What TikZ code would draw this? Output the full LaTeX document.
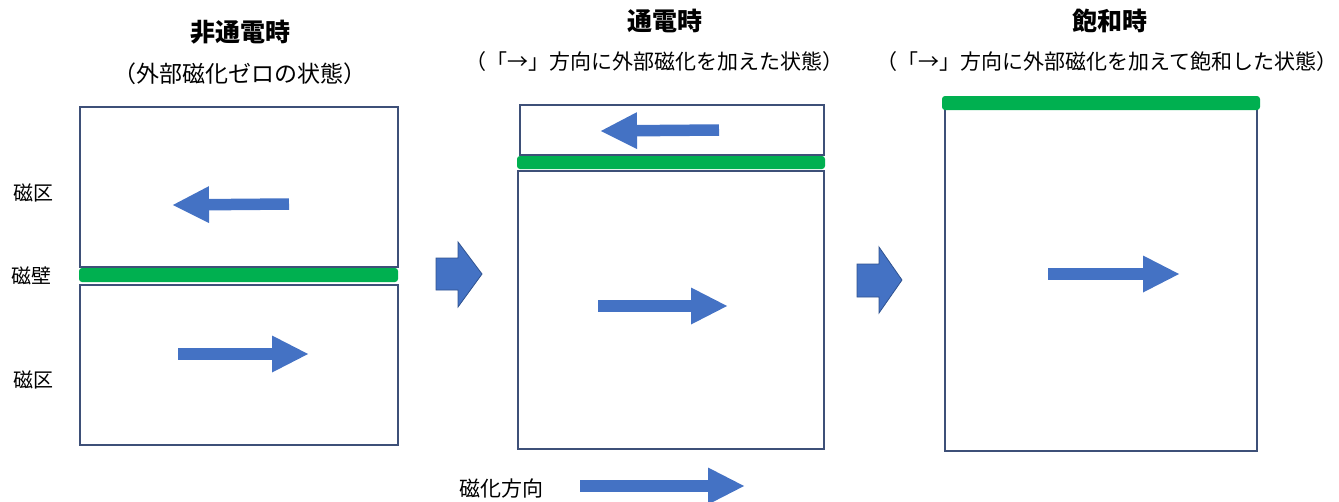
\documentclass[tikz,border=0pt]{standalone}
\usepackage{fontspec}
\setmainfont{Noto Sans CJK JP}
\usetikzlibrary{arrows.meta}
\definecolor{boxline}{HTML}{3E5078}
\definecolor{wallgreen}{HTML}{00B050}
\definecolor{arrowblue}{HTML}{4472C4}
\definecolor{arrowedge}{HTML}{2F528F}
\tikzset{
  domainbox/.style={draw=boxline, line width=1.4pt},
  wall/.style={fill=wallgreen, draw=none, rounded corners=3pt},
  magarrow/.style={draw=arrowblue, line width=11.5pt, -{Triangle[length=37pt,width=34pt]}},
  blockarrow/.style={fill=arrowblue, draw=arrowedge, line width=0.8pt},
  title/.style={font=\fontsize{25}{29}\selectfont\bfseries, anchor=center},
  subtitle/.style={font=\fontsize{21}{24}\selectfont, anchor=center},
  sidelabel/.style={font=\fontsize{20}{23}\selectfont, anchor=center}
}
\begin{document}
\begin{tikzpicture}[x=1pt,y=-1pt]
\useasboundingbox (0,0) rectangle (1339,501);
% Panel 1
\node[title] (t1) at (240,32) {非通電時};
\node[subtitle, font=\fontsize{23}{26}\selectfont] (s1) at (240,74) {（外部磁化ゼロの状態）};
\draw[domainbox] (80,107) rectangle (398,267);
\draw[domainbox] (80,285) rectangle (398,445);
\fill[wall] (79,268) rectangle (398,282);
\draw[magarrow] (289,204) -- (172,205);
\draw[magarrow] (178,354) -- (309,354);
\node[sidelabel] (l1) at (33,193) {磁区};
\node[sidelabel] (l2) at (31,276) {磁壁};
\node[sidelabel] (l3) at (33,380) {磁区};
% block arrow 1
\draw[blockarrow] (436,258) -- (458,258) -- (458,242) -- (482,274) -- (458,307) -- (458,290) -- (436,290) -- cycle;
% Panel 2
\node[title] (t2) at (665,21) {通電時};
\node[subtitle] (s2) at (654,62) {（「→」方向に外部磁化を加えた状態）};
\draw[domainbox] (520,105) rectangle (824,155);
\draw[domainbox] (518,171) rectangle (824,449);
\fill[wall] (517,156) rectangle (825,169);
\draw[magarrow] (719,130) -- (600,131);
\draw[magarrow] (598,306) -- (728,306);
% block arrow 2
\draw[blockarrow] (857,264) -- (879,264) -- (879,247) -- (902,280) -- (879,313) -- (879,297) -- (857,297) -- cycle;
% Panel 3
\node[title] (t3) at (1110,21) {飽和時};
\node[subtitle] (s3) at (1107,62) {（「→」方向に外部磁化を加えて飽和した状態）};
\draw[domainbox] (945,108) rectangle (1257,451);
\fill[wall] (942,96) rectangle (1260,110);
\draw[magarrow] (1048,274) -- (1180,274);
% legend
\node[sidelabel, font=\fontsize{21}{24}\selectfont] (lg) at (501,489) {磁化方向};
\draw[magarrow] (580,486) -- (745,486);
\end{tikzpicture}
\end{document}
